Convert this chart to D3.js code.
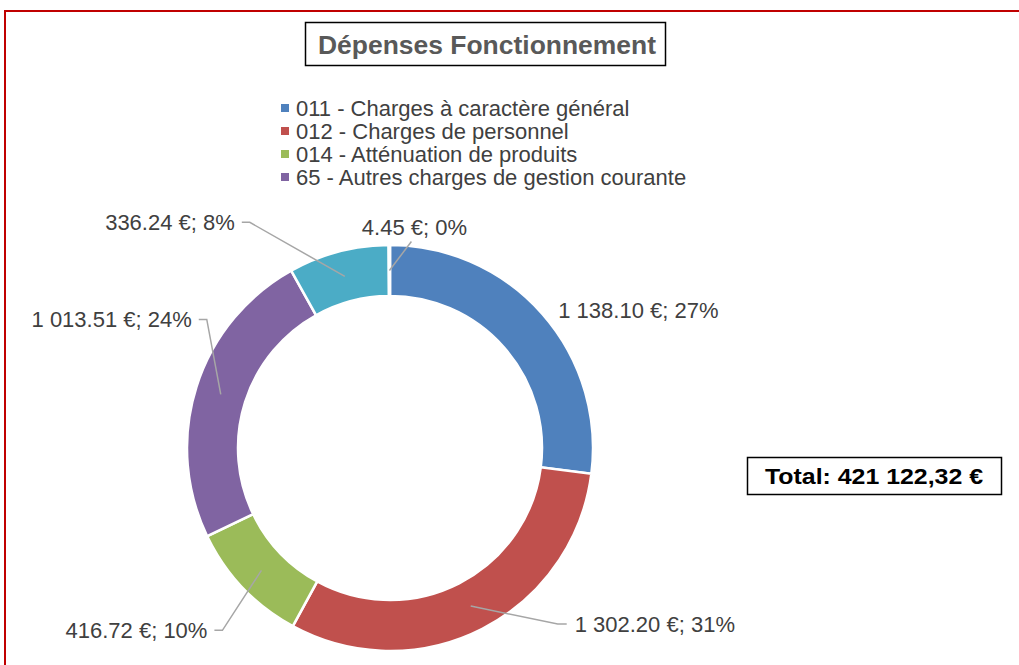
<html>
    <head>
        <style>
            body { margin: 0; background: #fff; }
            svg { display: block; font-family: "Liberation Sans", Arial, sans-serif; }
            .chart .lbl { fill: #404040; font-size: 22px; }
            .chart .leg text { fill: #404040; font-size: 22px; }
            .chart .leader { fill: none; stroke: #a6a6a6; stroke-width: 1.5; }
        </style>
    </head>
    <body>
        <svg class="chart" width="1019" height="665"></svg>
        <script src="https://d3js.org/d3.v7.min.js"></script>
        <script>
            // values
            var categories = ["011 - Charges à caractère général", "012 - Charges de personnel",
                "014 - Atténuation de produits", "65 - Autres charges de gestion courante", "016", "022"];
            var values = [1138.10, 1302.20, 416.72, 1013.51, 336.24, 4.45];
            var legendCount = 4;   // only the first four show in the legend
            var colors = ["#4f81bd", "#c0504d", "#9bbb59", "#8064a2", "#4bacc6", "#f79646"];
            var totalLabel = "Total: 421 122,32 €";

            // label placement, offsets from slice centroid (elbow of leader)
            var labelOffsets = [
                {dx: 35, dy: -20, side: "none"},
                {dx: 87, dy: 18, side: "right"},
                {dx: -39, dy: 60, side: "left"},
                {dx: -14, dy: -75, side: "left"},
                {dx: -95, dy: -54, side: "left"},
                {dx: 22, dy: -29, side: "up"}
            ];

            var svg = d3.select('.chart');
            var cx = 390, cy = 448, R = 203, r = 152;

            // outer red frame
            svg.append('rect')
                .attr('x', 5).attr('y', 11)
                .attr('width', 1030).attr('height', 700)
                .attr('fill', 'none')
                .attr('stroke', '#c00000')
                .attr('stroke-width', 2);

            // title
            var tg = svg.append('g');
            tg.append('rect')
                .attr('x', 305.5).attr('y', 22.5).attr('width', 360).attr('height', 43)
                .attr('fill', '#fff').attr('stroke', '#000').attr('stroke-width', 1.5);
            tg.append('text')
                .attr('x', 318).attr('y', 54)
                .attr('textLength', 338)
                .attr('lengthAdjust', 'spacingAndGlyphs')
                .style('font-size', '25px').style('font-weight', 'bold').style('fill', '#595959')
                .text('Dépenses Fonctionnement');

            // legend
            var leg = svg.selectAll('.leg')
                .data(categories.slice(0, legendCount))
                .enter()
                .append('g')
                .attr('class', 'leg')
                .attr('transform', function(d, i) { return 'translate(281,' + (108 + i * 23) + ')'; });
            leg.append('rect')
                .attr('x', 0).attr('y', -4).attr('width', 8).attr('height', 8)
                .attr('fill', function(d, i) { return colors[i]; });
            leg.append('text')
                .attr('x', 15).attr('y', 8)
                .text(function(d) { return d; });

            // donut
            var total = d3.sum(values);
            var pie = d3.pie().sort(null).value(function(d) { return d; });
            var arc = d3.arc().innerRadius(r).outerRadius(R);
            var arcs = pie(values);

            var g = svg.append('g').attr('transform', 'translate(' + cx + ',' + cy + ')');
            g.selectAll('path.slice')
                .data(arcs)
                .enter()
                .append('path')
                .attr('class', 'slice')
                .attr('d', arc)
                .attr('fill', function(d, i) { return colors[i]; })
                .attr('stroke', '#fff')
                .attr('stroke-width', 2.5);

            var fmt = function(v) {
                var s = v.toFixed(2).split('.');
                return s[0].replace(/\B(?=(\d{3})+(?!\d))/g, ' ') + '.' + s[1] + ' €; ' + Math.round(v / total * 100) + '%';
            };

            arcs.forEach(function(d, i) {
                var c = arc.centroid(d);
                var o = labelOffsets[i];
                var ex = c[0] + o.dx, ey = c[1] + o.dy;
                var t = g.append('text').attr('class', 'lbl').attr('dy', '0.35em').text(fmt(values[i]));
                if (o.side === 'none') {
                    t.attr('x', ex).attr('y', ey);
                } else if (o.side === 'right') {
                    g.append('path').attr('class', 'leader')
                        .attr('d', 'M' + c[0] + ',' + c[1] + 'L' + ex + ',' + ey + 'L' + (ex + 9) + ',' + ey);
                    t.attr('x', ex + 17).attr('y', ey);
                } else if (o.side === 'left') {
                    g.append('path').attr('class', 'leader')
                        .attr('d', 'M' + c[0] + ',' + c[1] + 'L' + ex + ',' + ey + 'L' + (ex - 8) + ',' + ey);
                    t.attr('x', ex - 15).attr('y', ey).attr('text-anchor', 'end');
                } else {
                    g.append('path').attr('class', 'leader')
                        .attr('d', 'M' + c[0] + ',' + c[1] + 'L' + ex + ',' + ey);
                    t.attr('x', ex + 3).attr('y', ey - 14).attr('text-anchor', 'middle');
                }
            });

            // total box
            var tb = svg.append('g');
            tb.append('rect')
                .attr('x', 747.5).attr('y', 457.5).attr('width', 254).attr('height', 37)
                .attr('fill', '#fff').attr('stroke', '#000').attr('stroke-width', 1.5);
            tb.append('text')
                .attr('x', 765).attr('y', 484)
                .attr('textLength', 218)
                .attr('lengthAdjust', 'spacingAndGlyphs')
                .style('font-size', '22px').style('font-weight', 'bold').style('fill', '#000')
                .text(totalLabel);
        </script>
    </body>
</html>
